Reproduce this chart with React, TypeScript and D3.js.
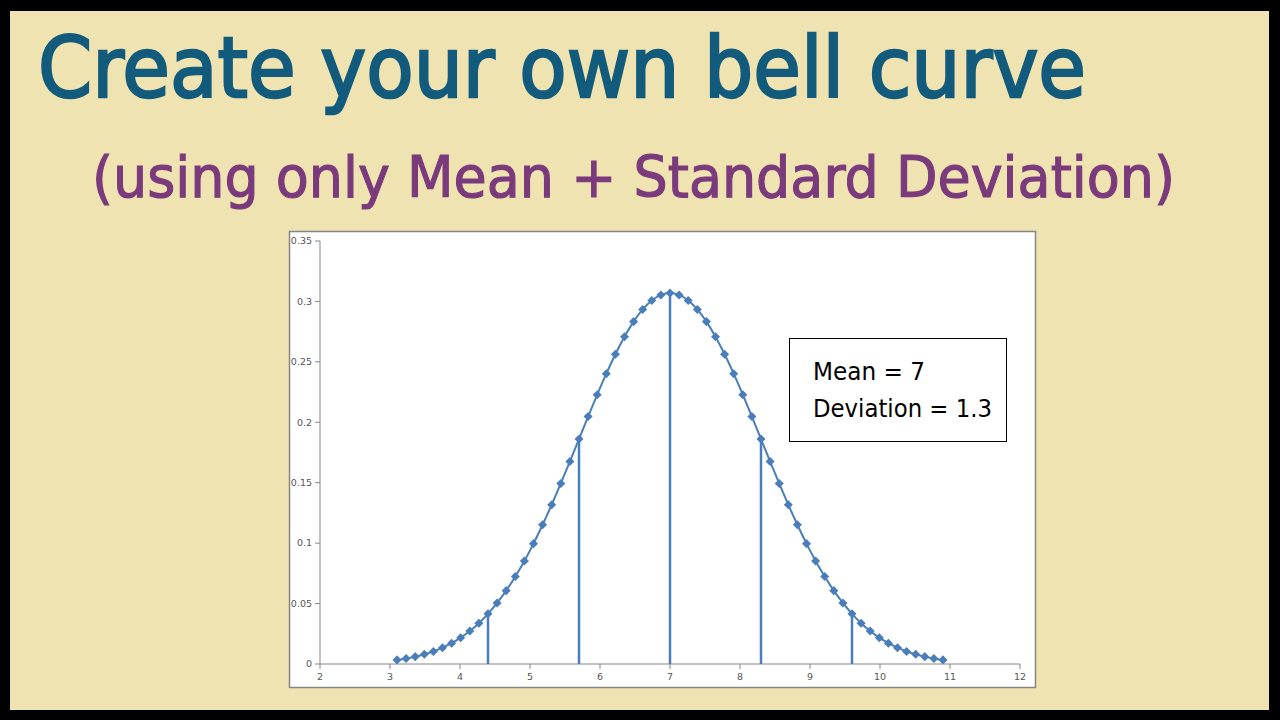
import React from "react";
import * as d3 from "d3";

const xValues = [
  3.1, 3.23, 3.36, 3.49, 3.62, 3.75, 3.88, 4.01, 4.14, 4.27,
  4.4, 4.53, 4.66, 4.79, 4.92, 5.05, 5.18, 5.31, 5.44, 5.57,
  5.7, 5.83, 5.96, 6.09, 6.22, 6.35, 6.48, 6.61, 6.74, 6.87,
  7.0, 7.13, 7.26, 7.39, 7.52, 7.65, 7.78, 7.91, 8.04, 8.17,
  8.3, 8.43, 8.56, 8.69, 8.82, 8.95, 9.08, 9.21, 9.34, 9.47,
  9.6, 9.73, 9.86, 9.99, 10.12, 10.25, 10.38, 10.51, 10.64, 10.77, 10.9,
];
const yValues = [
  0.0034, 0.0046, 0.0061, 0.008, 0.0104, 0.0135, 0.0172, 0.0218, 0.0273, 0.0338,
  0.0415, 0.0505, 0.0607, 0.0724, 0.0853, 0.0996, 0.1152, 0.1318, 0.1494, 0.1676,
  0.1861, 0.2047, 0.2228, 0.2402, 0.2563, 0.2708, 0.2833, 0.2934, 0.3008, 0.3054,
  0.3069, 0.3054, 0.3008, 0.2934, 0.2833, 0.2708, 0.2563, 0.2402, 0.2228, 0.2047,
  0.1861, 0.1676, 0.1494, 0.1318, 0.1152, 0.0996, 0.0853, 0.0724, 0.0607, 0.0505,
  0.0415, 0.0338, 0.0273, 0.0218, 0.0172, 0.0135, 0.0104, 0.008, 0.0061, 0.0046, 0.0034,
];
const markerX = [4.4, 5.7, 7.0, 8.3, 9.6];
const markerY = [0.0415, 0.1861, 0.3069, 0.1861, 0.0415];
const xTicks = [2, 3, 4, 5, 6, 7, 8, 9, 10, 11, 12];
const yTicks = [0, 0.05, 0.1, 0.15, 0.2, 0.25, 0.3, 0.35];
const yTickLabels = ["0", "0.05", "0.1", "0.15", "0.2", "0.25", "0.3", "0.35"];
const title = "Create your own bell curve";
const subtitle = "(using only Mean + Standard Deviation)";
const infoLines = ["Mean = 7", "Deviation = 1.3"];
const infoWidths = [112, 179];

const BLUE = "#4A7EBB";

export default function App() {
  const x = d3.scaleLinear().domain([2, 12]).range([320, 1020]);
  const y = d3.scaleLinear().domain([0, 0.35]).range([664, 241]);
  const pts = xValues.map((v, i) => [v, yValues[i]] as [number, number]);
  const line = d3
    .line<[number, number]>()
    .x((d) => x(d[0]))
    .y((d) => y(d[1]))
    .curve(d3.curveCatmullRom);
  const diamond = d3.symbol().type(d3.symbolDiamond2).size(52)();
  const font = "'DejaVu Sans', 'Noto Sans', sans-serif";

  return (
    <div style={{ position: "absolute", left: 0, top: 0 }}>
      <svg width={1280} height={720} style={{ display: "block" }}>
        <rect x={0} y={0} width={1280} height={720} fill="#000" />
        <rect x={10} y={11} width={1259} height={699} fill="#F0E3B2" />
        <text
          x={38}
          y={97}
          fontSize={83}
          fontFamily={font}
          fill="#135B7C"
          stroke="#135B7C"
          strokeWidth={2.5}
          textLength={1048}
          lengthAdjust="spacingAndGlyphs"
        >
          {title}
        </text>
        <text
          x={92}
          y={197}
          fontSize={57}
          fontFamily={font}
          fill="#7A3A7C"
          stroke="#7A3A7C"
          strokeWidth={1.2}
          textLength={1083}
          lengthAdjust="spacingAndGlyphs"
        >
          {subtitle}
        </text>
        <rect x={289.5} y={231.5} width={746} height={456} fill="#fff" stroke="#858585" strokeWidth={1.5} />
        {/* axes */}
        <line x1={320} x2={320} y1={y(0.35)} y2={y(0)} stroke="#868686" strokeWidth={1} />
        <line x1={320} x2={1020} y1={y(0)} y2={y(0)} stroke="#868686" strokeWidth={1} />
        {yTicks.map((t, i) => (
          <g key={"y" + i}>
            <line x1={315} x2={320} y1={y(t)} y2={y(t)} stroke="#868686" />
            <text
              x={312}
              y={y(t)}
              dy="0.35em"
              textAnchor="end"
              fontSize={9.5}
              fontFamily={font}
              fill="#555"
            >
              {yTickLabels[i]}
            </text>
          </g>
        ))}
        {xTicks.map((t, i) => (
          <g key={"x" + i}>
            <line x1={x(t)} x2={x(t)} y1={664} y2={669} stroke="#868686" />
            <text
              x={x(t)}
              y={680}
              textAnchor="middle"
              fontSize={9.5}
              fontFamily={font}
              fill="#555"
            >
              {t}
            </text>
          </g>
        ))}
        {/* vertical marker lines */}
        {markerX.map((mx, i) => (
          <line
            key={"m" + i}
            x1={x(mx)}
            x2={x(mx)}
            y1={y(0)}
            y2={y(markerY[i])}
            stroke={BLUE}
            strokeWidth={2.5}
          />
        ))}
        <path d={line(pts) || ""} fill="none" stroke={BLUE} strokeWidth={2} />
        {pts.map((p, i) => (
          <path key={"p" + i} d={diamond || ""} transform={`translate(${x(p[0])},${y(p[1])})`} fill={BLUE} />
        ))}
        {/* info box */}
        <rect x={789.5} y={338.5} width={217} height={103} fill="#fff" stroke="#000" strokeWidth={1} />
        {infoLines.map((s, i) => (
          <text
            key={"t" + i}
            x={813}
            y={380 + i * 37}
            fontSize={24}
            fontFamily={font}
            fill="#000"
            textLength={infoWidths[i]}
            lengthAdjust="spacingAndGlyphs"
          >
            {s}
          </text>
        ))}
      </svg>
    </div>
  );
}
